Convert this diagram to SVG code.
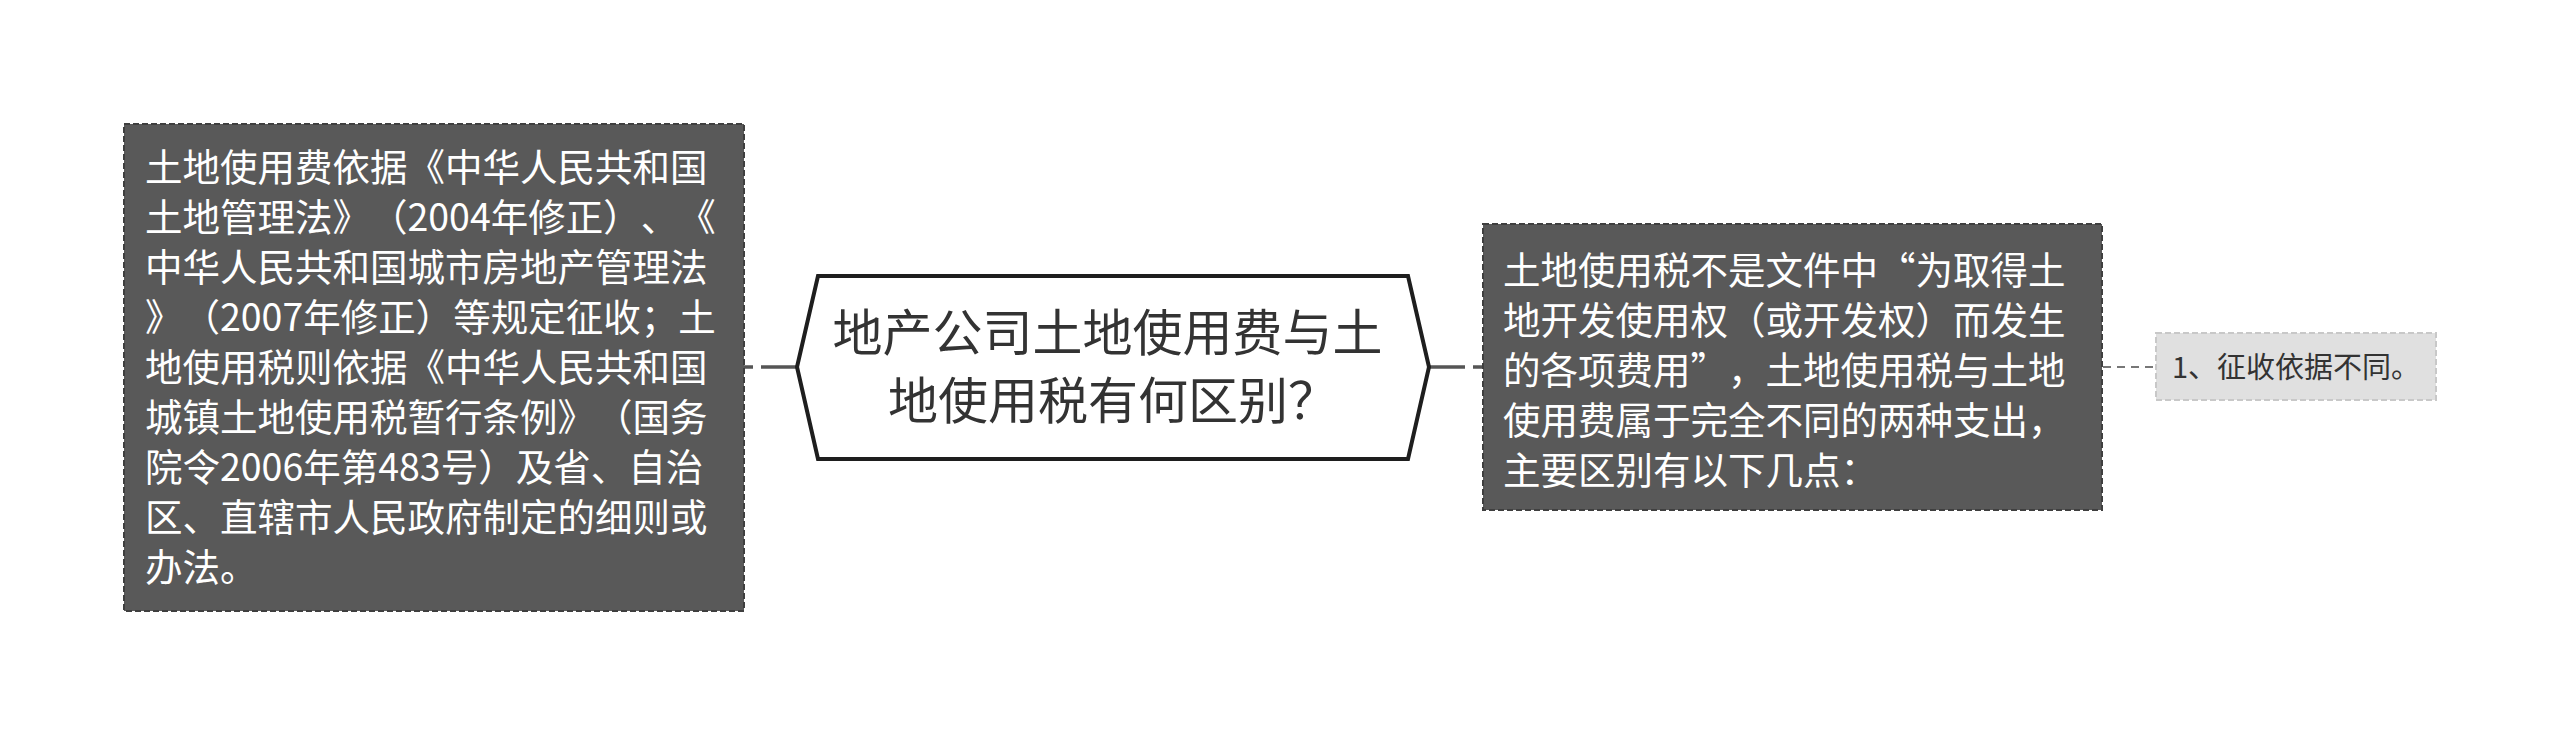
<svg xmlns="http://www.w3.org/2000/svg" width="2560" height="735" viewBox="0 0 2560 735">
<style>
.dark{fill:#595959;stroke:#3f3f3f;stroke-width:2;stroke-dasharray:6 3}
.light{fill:#e0e0e0;stroke:#c8c8c8;stroke-width:2;stroke-dasharray:6 3}
.hex{fill:#ffffff;stroke:#1e1e1e;stroke-width:4;stroke-linejoin:miter}
.t{font-family:"Noto Sans CJK SC","Noto Sans",sans-serif;text-spacing-trim:space-all;font-kerning:none}
.wt{fill:#ffffff;font-size:37.5px}
.ct{fill:#333333;font-size:50px}
.st{fill:#333333;font-size:29px}
.conn{fill:none;stroke:#555555;stroke-width:3.5;stroke-dasharray:36 8}
.conn2{fill:none;stroke:#777777;stroke-width:2;stroke-dasharray:8 6}
</style>
<rect width="2560" height="735" fill="#ffffff"/>
<g id="connectors">
<path class="conn" d="M797 367 L434 367"/>
<path class="conn" d="M1429 367 L1792 367"/>
<path class="conn2" d="M2103 367 L2156 367"/>
</g>
<g id="node-left">
<rect class="dark" x="124" y="124" width="620" height="487"/>
<text class="t wt" x="145">
<tspan x="145" y="181">土地使用费依据《中华人民共和国</tspan>
<tspan x="145" y="231">土地管理法》（2004年修正）、《</tspan>
<tspan x="145" y="281">中华人民共和国城市房地产管理法</tspan>
<tspan x="145" y="331">》（2007年修正）等规定征收；土</tspan>
<tspan x="145" y="381">地使用税则依据《中华人民共和国</tspan>
<tspan x="145" y="431">城镇土地使用税暂行条例》（国务</tspan>
<tspan x="145" y="481">院令2006年第483号）及省、自治</tspan>
<tspan x="145" y="531">区、直辖市人民政府制定的细则或</tspan>
<tspan x="145" y="581">办法。</tspan>
</text>
</g>
<g id="node-center">
<polygon class="hex" points="797,367 818,276 1408,276 1429,367 1408,459 818,459"/>
<text class="t ct" text-anchor="middle">
<tspan x="1113" y="351">地产公司土地使用费与土</tspan>
<tspan x="1113" y="419">地使用税有何区别？</tspan>
</text>
</g>
<g id="node-right">
<rect class="dark" x="1483" y="224" width="619" height="286"/>
<text class="t wt">
<tspan x="1503" y="284">土地使用税不是文件中“为取得土</tspan>
<tspan x="1503" y="334">地开发使用权（或开发权）而发生</tspan>
<tspan x="1503" y="384">的各项费用”，土地使用税与土地</tspan>
<tspan x="1503" y="434">使用费属于完全不同的两种支出，</tspan>
<tspan x="1503" y="484">主要区别有以下几点：</tspan>
</text>
</g>
<g id="node-small">
<rect class="light" x="2156" y="333" width="280" height="67"/>
<text class="t st" x="2172" y="378">1、征收依据不同。</text>
</g>
</svg>
